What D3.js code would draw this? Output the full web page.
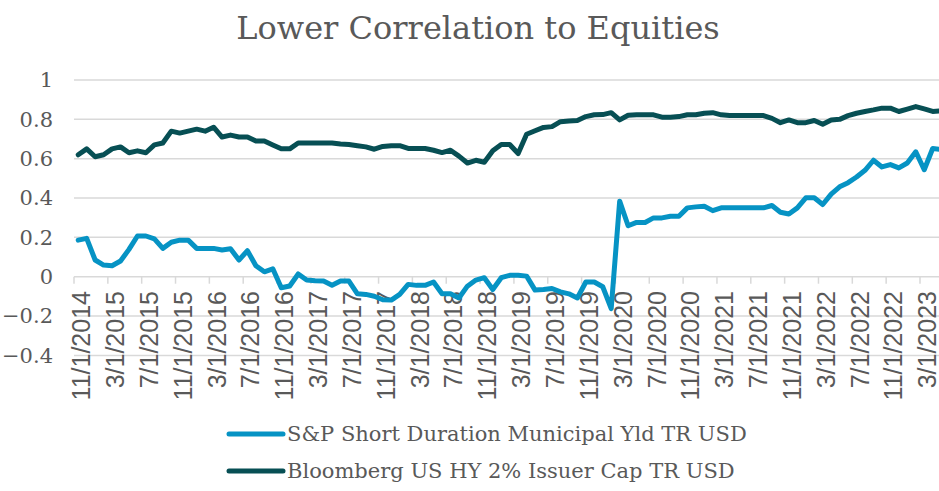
<!DOCTYPE html>
<html>
<head>
<meta charset="utf-8">
<title>Lower Correlation to Equities</title>
<script src="https://d3js.org/d3.v7.min.js"></script>
<style>
  body { margin: 0; background: white; }
  .canvas { background: white; }
  text { fill: #595959; }
</style>
</head>
<body>
<svg class="canvas" width="939" height="491"></svg>
<script>
// monthly observations, 11/2014 .. 5/2023
const months = d3.timeMonth.range(new Date(2014, 10, 1), new Date(2023, 5, 1));

const muni = [
  0.186, 0.195, 0.085, 0.059, 0.056, 0.080, 0.139, 0.207, 0.207, 0.192,
  0.144, 0.175, 0.186, 0.186, 0.144, 0.144, 0.144, 0.136, 0.142, 0.085,
  0.132, 0.056, 0.025, 0.040, -0.056, -0.047, 0.014, -0.017, -0.020, -0.022,
  -0.043, -0.022, -0.022, -0.087, -0.090, -0.099, -0.117, -0.119, -0.090, -0.039,
  -0.044, -0.044, -0.027, -0.087, -0.087, -0.108, -0.048, -0.017, -0.005, -0.065,
  -0.005, 0.007, 0.007, 0.003, -0.068, -0.065, -0.060, -0.077, -0.087, -0.108,
  -0.027, -0.027, -0.051, -0.162, 0.384, 0.259, 0.276, 0.276, 0.299, 0.299,
  0.307, 0.307, 0.350, 0.355, 0.358, 0.336, 0.350, 0.350, 0.350, 0.350,
  0.350, 0.350, 0.362, 0.328, 0.319, 0.350, 0.401, 0.401, 0.367, 0.420,
  0.457, 0.478, 0.507, 0.541, 0.592, 0.558, 0.570, 0.553, 0.578, 0.635,
  0.544, 0.652, 0.647
];

const hy = [
  0.620, 0.650, 0.610, 0.620, 0.650, 0.660, 0.630, 0.640, 0.630, 0.670,
  0.680, 0.740, 0.730, 0.740, 0.750, 0.740, 0.760, 0.710, 0.720, 0.710,
  0.710, 0.690, 0.690, 0.670, 0.650, 0.650, 0.680, 0.680, 0.680, 0.680,
  0.680, 0.675, 0.672, 0.666, 0.660, 0.648, 0.662, 0.666, 0.666, 0.652,
  0.652, 0.652, 0.643, 0.631, 0.643, 0.613, 0.578, 0.592, 0.582, 0.640,
  0.672, 0.672, 0.626, 0.724, 0.742, 0.759, 0.763, 0.788, 0.792, 0.794,
  0.814, 0.823, 0.824, 0.834, 0.797, 0.821, 0.823, 0.823, 0.823, 0.811,
  0.811, 0.814, 0.823, 0.823, 0.831, 0.834, 0.823, 0.819, 0.819, 0.819,
  0.819, 0.819, 0.805, 0.783, 0.797, 0.783, 0.783, 0.794, 0.775, 0.797,
  0.800, 0.819, 0.831, 0.840, 0.848, 0.857, 0.857, 0.840, 0.852, 0.865,
  0.853, 0.840, 0.843
];

const seriesNames = ["S&P Short Duration Municipal Yld TR USD", "Bloomberg US HY 2% Issuer Cap TR USD"];
const seriesColors = ["#0693c4", "#074f54"];
const yTicks = [-0.4, -0.2, 0, 0.2, 0.4, 0.6, 0.8, 1];

const svg = d3.select('.canvas');
const serif = "'DejaVu Serif', Georgia, serif";

// category axis, 8.46px per month
const x = d3.scaleBand()
  .domain(d3.range(months.length))
  .range([74, 74 + months.length * 8.46]);

const y = d3.scaleLinear()
  .domain([-0.4, 1])
  .range([355.4, 80]);

// title
svg.append('text')
  .attr('x', 478)
  .attr('y', 39)
  .attr('text-anchor', 'middle')
  .style('font-family', serif)
  .style('font-size', '32px')
  .text('Lower Correlation to Equities');

// gridlines
svg.append('g')
  .selectAll('line')
  .data(yTicks)
  .enter()
  .append('line')
  .attr('x1', 74)
  .attr('x2', 939)
  .attr('y1', d => y(d))
  .attr('y2', d => y(d))
  .attr('stroke', '#d9d9d9')
  .attr('stroke-width', 1.5);

// y labels
svg.append('g')
  .selectAll('text')
  .data(yTicks)
  .enter()
  .append('text')
  .attr('x', 53)
  .attr('y', d => y(d))
  .attr('dy', '0.35em')
  .attr('text-anchor', 'end')
  .style('font-family', serif)
  .style('font-size', '21px')
  .text(d => d3.format('')(d));

// x ticks + labels every 4 months, hung from the zero line
const fmt = d3.timeFormat('%-m/%-d/%Y');
const tickIdx = d3.range(0, months.length, 4);

svg.append('g')
  .selectAll('line')
  .data(tickIdx)
  .enter()
  .append('line')
  .attr('x1', d => x(d))
  .attr('x2', d => x(d))
  .attr('y1', y(0))
  .attr('y2', y(0) + 7)
  .attr('stroke', '#d9d9d9')
  .attr('stroke-width', 1.5);

svg.append('g')
  .selectAll('text')
  .data(tickIdx)
  .enter()
  .append('text')
  .attr('transform', d => `translate(${x(d) + 7.5},291) rotate(-90)`)
  .attr('dy', '0.35em')
  .attr('text-anchor', 'end')
  .style('font-family', "'Liberation Sans', Arial, sans-serif")
  .style('font-size', '25px')
  .text(d => fmt(months[d]));

// lines
const line = d3.line()
  .x((d, i) => x(i) + x.bandwidth() / 2)
  .y(d => y(d));

[muni, hy].forEach((s, k) => {
  svg.append('path')
    .datum(s)
    .attr('fill', 'none')
    .attr('stroke', seriesColors[k])
    .attr('stroke-width', 5)
    .attr('stroke-linejoin', 'round')
    .attr('stroke-linecap', 'round')
    .attr('d', line);
});

// legend
const legend = svg.append('g')
  .selectAll('g')
  .data(seriesNames)
  .enter()
  .append('g')
  .attr('transform', (d, i) => `translate(229,${434 + i * 37})`);

legend.append('line')
  .attr('x1', 0)
  .attr('x2', 54)
  .attr('stroke', (d, i) => seriesColors[i])
  .attr('stroke-width', 5)
  .attr('stroke-linecap', 'round');

legend.append('text')
  .attr('x', 58)
  .attr('dy', '0.35em')
  .style('font-family', serif)
  .style('font-size', '21px')
  .text(d => d);
</script>
</body>
</html>
